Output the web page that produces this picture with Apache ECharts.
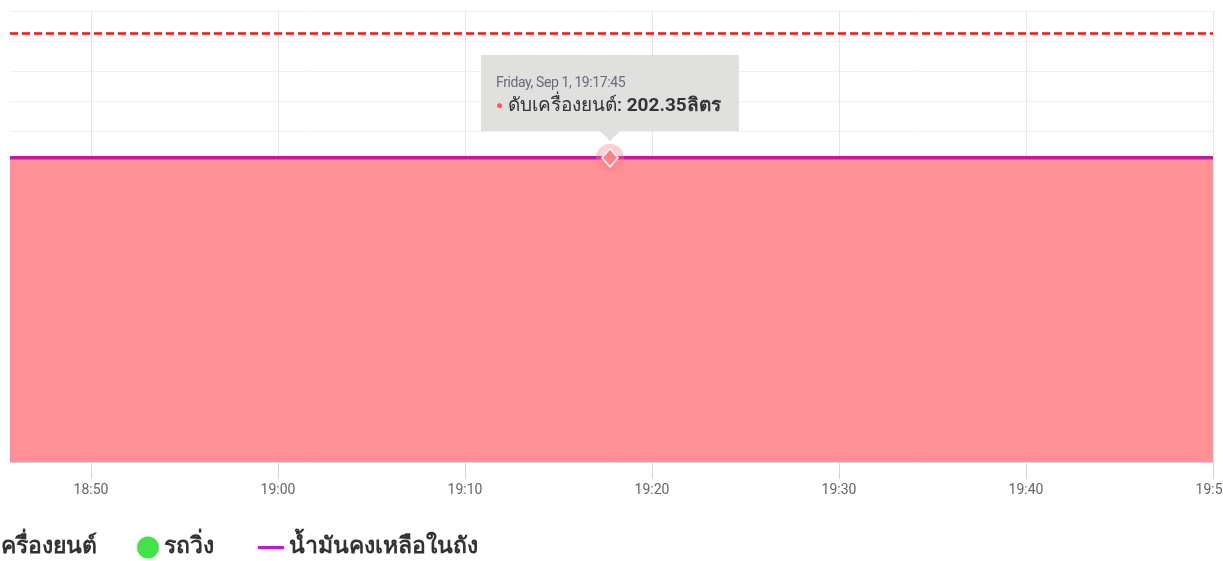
<!DOCTYPE html>
<html>
<head>
<meta charset="utf-8">
<script src="https://cdn.jsdelivr.net/npm/echarts@6/dist/echarts.min.js"></script>
<style>
html,body{margin:0;padding:0;background:#fff;}
#chart{width:1223px;height:561px;}
</style>
</head>
<body>
<div id="chart"></div>
<script>
// ---- data ----
const times = ['2023-09-01 18:45:40','2023-09-01 18:55:00','2023-09-01 19:05:00','2023-09-01 19:17:45','2023-09-01 19:30:00','2023-09-01 19:40:00','2023-09-01 19:50:00'];
const engineOff = [202.35,202.35,202.35,202.35,202.35,202.35,202.35];
const fuelRemaining = [202.35,202.35,202.35,202.35,202.35,202.35,202.35];
const running = [];
const tankCapacity = [285];
const tickTimes = ['2023-09-01 18:50:00','2023-09-01 19:00:00','2023-09-01 19:10:00','2023-09-01 19:20:00','2023-09-01 19:30:00','2023-09-01 19:40:00','2023-09-01 19:50:00'];
const seriesNames = ['ดับเครื่องยนต์','รถวิ่ง','น้ำมันคงเหลือในถัง'];
const unit = 'ลิตร';
const xMin = '2023-09-01 18:45:40';
const xMax = '2023-09-01 19:50:00';
const hoverIndex = 3;

const FONT = "'Roboto','Noto Sans',sans-serif";
const chart = echarts.init(document.getElementById('chart'));
const pad = n => (n < 10 ? '0' : '') + n;
const toMs = s => new Date(s.replace(' ', 'T')).getTime();
const days = ['Sunday','Monday','Tuesday','Wednesday','Thursday','Friday','Saturday'];
const months = ['Jan','Feb','Mar','Apr','May','Jun','Jul','Aug','Sep','Oct','Nov','Dec'];
const TIPBG = 'rgba(222,222,220,0.95)';
const legendText = {fontFamily: FONT, fontSize: 23, fontWeight: 'bold', color: '#333'};
const tickMs = tickTimes.map(toMs);
const timeMs = times.map(toMs);

chart.setOption({
  animation: false,
  grid: {left: 10, right: 10, top: 11, bottom: 99, outerBoundsMode: 'none', containLabel: false},
  tooltip: {
    trigger: 'axis',
    axisPointer: {type: 'none'},
    alwaysShowContent: true,
    transitionDuration: 0,
    backgroundColor: TIPBG,
    borderWidth: 0,
    padding: [18, 18, 14, 15],
    extraCssText: 'box-shadow:none;border-radius:0;overflow:visible;',
    position: function (point, params, dom, rect, size) {
      return [point[0] - size.contentSize[0] / 2, point[1] - size.contentSize[1] - 27];
    },
    formatter: function (ps) {
      const p = ps.filter(q => q.seriesIndex === 0)[0] || ps[0];
      const d = new Date(p.value[0]);
      const head = days[d.getDay()] + ', ' + months[d.getMonth()] + ' ' + d.getDate() + ', ' +
        d.getHours() + ':' + pad(d.getMinutes()) + ':' + pad(d.getSeconds());
      return '<div style="font-family:Roboto,sans-serif;font-size:14px;color:#6a6a7a;line-height:18px;letter-spacing:-0.4px;">' + head + '</div>' +
        '<div style="font-family:Roboto,sans-serif;font-size:19px;color:#333;line-height:24px;margin-top:2px;font-weight:500;">' +
        '<span style="color:#ff5b66;font-size:12px;vertical-align:2px;">&#9679;</span> ' + p.seriesName + ': <b>' + p.value[1] + unit + '</b></div>' +
        '<div style="position:absolute;left:50%;bottom:-10px;margin-left:-10px;width:0;height:0;border-left:10px solid transparent;border-right:10px solid transparent;border-top:10px solid ' + TIPBG + ';"></div>';
    }
  },
  legend: [
    {
      top: 536, left: -64, padding: 0, itemWidth: 22, itemHeight: 22, icon: 'circle',
      textStyle: legendText, data: [seriesNames[0]]
    },
    {
      top: 536, left: 137, padding: 0, itemWidth: 22, itemHeight: 22, icon: 'circle',
      textStyle: legendText, data: [seriesNames[1]]
    },
    {
      top: 536, left: 258, padding: 0, itemWidth: 26, itemHeight: 3, icon: 'rect',
      textStyle: legendText, data: [seriesNames[2]]
    }
  ],
  xAxis: {
    type: 'value',
    min: toMs(xMin),
    max: toMs(xMax),
    axisLine: {lineStyle: {color: '#ccd6eb'}},
    axisTick: {show: true, length: 17, lineStyle: {color: '#ccd6eb'}, customValues: tickMs},
    splitLine: {show: true, lineStyle: {color: '#e6e6e6', width: 1}},
    axisLabel: {
      color: '#666', fontSize: 14, fontFamily: FONT, margin: 21,
      customValues: tickMs, hideOverlap: false,
      formatter: function (v) { const d = new Date(v); return d.getHours() + ':' + pad(d.getMinutes()); }
    }
  },
  yAxis: {
    type: 'value',
    min: 0, max: 300, interval: 20,
    axisLabel: {show: false},
    axisLine: {show: false},
    axisTick: {show: false},
    splitLine: {lineStyle: {color: '#f0f0f0'}}
  },
  series: [
    {
      name: seriesNames[0],
      type: 'line',
      data: timeMs.map((t, i) => [t, engineOff[i]]),
      showSymbol: false,
      symbol: 'none',
      color: '#ff6f79',
      lineStyle: {color: '#e86a74', width: 1},
      areaStyle: {color: '#ff8388', opacity: 1},
      z: 2,
      markPoint: {
        silent: true,
        label: {show: false},
        data: [
          {coord: [timeMs[hoverIndex], engineOff[hoverIndex]], symbol: 'circle', symbolSize: 28, itemStyle: {color: 'rgba(255,120,130,0.35)'}},
          {coord: [timeMs[hoverIndex], engineOff[hoverIndex]], symbol: 'diamond', symbolSize: [16, 18], itemStyle: {color: '#ff8388', borderColor: '#fff', borderWidth: 1.5}}
        ]
      }
    },
    {
      name: seriesNames[1],
      type: 'scatter',
      data: running,
      color: '#42e24a',
      itemStyle: {opacity: 1}
    },
    {
      name: seriesNames[2],
      type: 'line',
      data: timeMs.map((t, i) => [t, fuelRemaining[i]]),
      showSymbol: false,
      symbol: 'none',
      color: '#c01ad0',
      lineStyle: {color: '#b5149f', width: 3.5},
      z: 3,
      markLine: {
        silent: true,
        symbol: 'none',
        label: {show: false},
        lineStyle: {color: '#ff1010', type: [8, 4], width: 2.5},
        data: [{yAxis: tankCapacity[0]}]
      }
    }
  ]
});
chart.dispatchAction({type: 'showTip', seriesIndex: 0, dataIndex: hoverIndex});
</script>
</body>
</html>
